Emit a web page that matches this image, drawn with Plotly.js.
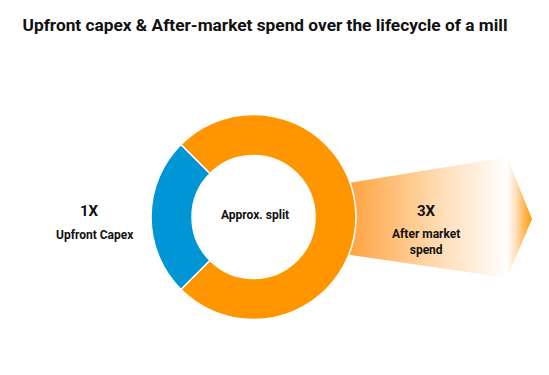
<!DOCTYPE html>
<html><head><meta charset="utf-8">
<script src="https://cdn.plot.ly/plotly-3.0.1.min.js"></script>
<style>html,body{margin:0;padding:0;background:#fff;}#chart{width:549px;height:375px;}</style>
</head><body><div id="chart"></div>
<script>
// Data
const categories = ["Upfront Capex", "After market spend"];
const multiples = ["1X", "3X"];
const splitValues = [1, 3];
const sliceColors = ["#0096D6", "#FF9600"];
const centerLabel = "Approx. split";
const titleText = "Upfront capex & After-market spend over the lifecycle of a mill";

// Decorative arrow outline (pixel space)
const arrowBodyX = [330, 508, 508, 330, 330];
const arrowBodyY = [186, 157, 278, 252, 186];
const arrowHeadX = [507, 532, 507, 507];
const arrowHeadY = [157, 219, 278, 157];

const traces = [
  {type: "scatter", x: arrowBodyX, y: arrowBodyY, mode: "lines", line: {width: 0},
   fill: "toself", fillgradient: {type: "horizontal", colorscale: [[0, "#FF9A20"], [0.15, "#FFA84A"], [0.65, "#FFE0BC"], [1, "#FFFFFF"]]},
   hoverinfo: "skip", showlegend: false},
  {type: "scatter", x: arrowHeadX, y: arrowHeadY, mode: "lines", line: {width: 0},
   fill: "toself", fillgradient: {type: "horizontal", colorscale: [[0, "#FFFFFF"], [0.35, "#FFE0BC"], [1, "#FF9600"]]},
   hoverinfo: "skip", showlegend: false},
  {type: "pie", labels: categories, values: splitValues, hole: 0.6, sort: false,
   direction: "clockwise", rotation: 225,
   marker: {colors: sliceColors, line: {color: "#FFFFFF", width: 1.5}},
   textinfo: "none", hoverinfo: "label+percent", showlegend: false,
   domain: {x: [151/549, 356/549], y: [55/375, 261/375]}}
];

const bold = {family: "Roboto, Arial, sans-serif", color: "#111", weight: 700};
const annotations = [
  {x: 89, y: 211, text: "<b>" + multiples[0] + "</b>", font: Object.assign({}, bold, {size: 15})},
  {x: 95, y: 235, text: "<b>" + categories[0] + "</b>", font: Object.assign({}, bold, {size: 12})},
  {x: 255, y: 215, text: "<b>" + centerLabel + "</b>", font: Object.assign({}, bold, {size: 12})},
  {x: 426, y: 211, text: "<b>" + multiples[1] + "</b>", font: Object.assign({}, bold, {size: 15})},
  {x: 426, y: 242, text: "<b>After market<br>spend</b>", font: Object.assign({}, bold, {size: 12})}
].map(a => Object.assign({xref: "x", yref: "y", showarrow: false, xanchor: "center", yanchor: "middle"}, a));

const layout = {
  width: 549, height: 375,
  margin: {l: 0, r: 0, t: 0, b: 0},
  paper_bgcolor: "#FFFFFF", plot_bgcolor: "#FFFFFF",
  title: {text: "<b>" + titleText + "</b>", x: 265/549, xanchor: "center", y: 1 - 25/375, yanchor: "middle",
          font: {family: "Roboto, Arial, sans-serif", size: 17.3, color: "#111"}},
  xaxis: {range: [0, 549], visible: false, fixedrange: true},
  yaxis: {range: [375, 0], visible: false, fixedrange: true},
  annotations: annotations,
  showlegend: false
};
Plotly.newPlot("chart", traces, layout, {displayModeBar: false, staticPlot: true});
</script></body></html>
